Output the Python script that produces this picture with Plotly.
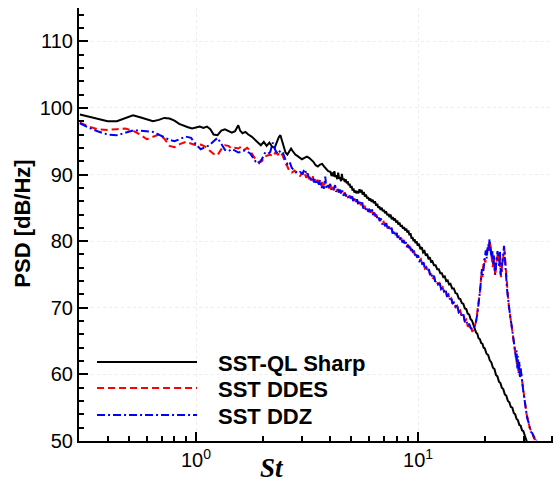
import plotly.graph_objects as go

# ---------------- data ----------------
st_ql = [0.30, 0.33, 0.36, 0.40, 0.44, 0.48, 0.52, 0.56, 0.60, 0.64, 0.68, 0.72, 0.76, 0.80, 0.84, 0.88,
         0.92, 0.96, 1.00, 1.04, 1.08, 1.12, 1.16, 1.20, 1.25, 1.30, 1.35, 1.40, 1.45, 1.50, 1.55, 1.58,
         1.62, 1.67, 1.72, 1.78, 1.84, 1.90, 1.96, 2.02, 2.08, 2.14, 2.20, 2.26, 2.31, 2.36, 2.40, 2.45,
         2.49, 2.53, 2.58, 2.63, 2.68, 2.73, 2.80, 2.86, 2.93, 3.00, 3.08, 3.16, 3.23, 3.30, 3.38, 3.46,
         3.54, 3.62, 3.70, 3.78, 3.86, 3.94, 4.03, 4.08, 4.12, 4.17, 4.20, 4.24, 4.28, 4.33, 4.37, 4.41,
         4.45, 4.50, 4.54, 4.58, 4.63, 4.68,
         4.72, 4.77, 4.82, 4.87, 4.92, 4.97, 5.02, 5.07, 5.12, 5.17, 5.22, 5.27, 5.33, 5.39, 5.45, 5.51,
         5.57, 5.63, 5.70, 5.76, 5.83, 5.90, 5.96, 6.03, 6.10, 6.18, 6.25, 6.33, 6.40, 6.48, 6.55, 6.62,
         6.70, 6.78, 6.86, 6.94, 7.02, 7.10, 7.18, 7.27, 7.35, 7.44, 7.52, 7.61, 7.70, 7.79, 7.88, 7.97,
         8.06, 8.15, 8.25, 8.35, 8.45, 8.55, 8.65, 8.75, 8.85, 8.95, 9.05, 9.15, 9.25, 9.35, 9.45, 9.55,
         9.65, 9.75, 9.85, 9.97, 10.1, 10.25, 10.4, 10.55, 10.7, 10.85, 11.0, 11.15, 11.3, 11.45, 11.6, 11.8,
         12.0, 12.2, 12.4, 12.6, 12.8, 13.0, 13.2, 13.4, 13.6, 13.8, 14.0, 14.25, 14.5, 14.75, 15.0, 15.25,
         15.5, 15.75, 16.0, 16.25, 16.5, 16.75, 17.0, 17.25, 17.5, 17.75, 18.0, 18.25, 18.5, 18.75, 19.0, 19.25,
         19.5, 19.75, 20.0, 20.35, 20.7, 21.05, 21.4, 21.75, 22.1, 22.45, 22.8, 23.15, 23.5, 23.85, 24.2, 24.6,
         25.0, 25.4, 25.8, 26.2, 26.6, 27.0, 27.4, 27.8, 28.2, 28.6, 29.0, 29.4, 29.8, 30.2, 30.5, 30.9, 31.2]
psd_ql = [99.0, 98.7, 98.4, 98.0, 98.0, 98.5, 98.9, 98.6, 98.3, 98.0, 98.2, 98.5, 98.4, 98.1, 97.6, 97.3,
          97.1, 96.9, 97.1, 97.2, 97.0, 97.2, 96.8, 96.0, 95.9, 96.6, 96.8, 96.6, 96.3, 96.5, 97.4, 96.6,
          96.2, 96.4, 96.0, 95.7, 95.3, 94.9, 94.4, 94.9, 94.3, 94.8, 94.2, 94.0, 94.9, 95.6, 95.9, 95.0,
          94.1, 93.3, 93.0, 93.4, 93.9, 93.5, 93.0, 92.8, 92.6, 92.3, 92.5, 92.7, 92.5, 92.2, 91.9, 91.4,
          91.2, 91.5, 91.6, 91.2, 90.8, 90.5, 90.4, 89.8, 90.3, 89.7, 90.5, 89.6, 89.9, 89.3, 90.3, 89.4,
          89.6, 89.0, 90.1, 89.2, 89.4, 88.9,
          89.3, 88.7, 89.0, 88.4, 88.6, 88.0, 88.3, 87.6, 87.9, 87.3, 87.6, 87.2, 87.5, 87.2, 87.8, 87.3,
          87.7, 87.0, 87.4, 86.7, 87.0, 86.4, 86.6, 86.1, 86.4, 85.9, 86.2, 85.7, 86.0, 85.3, 85.6, 85.0,
          85.2, 84.7, 85.0, 84.5, 84.7, 84.2, 84.5, 83.9, 84.1, 83.6, 84.0, 83.3, 83.6, 83.1, 83.4, 82.8,
          83.1, 82.5, 82.8, 82.2, 82.4, 81.9, 82.1, 81.6, 81.9, 81.3, 81.6, 80.9, 81.2, 80.4, 80.6, 80.0,
          80.3, 79.7, 80.0, 79.3, 79.6, 78.8, 79.1, 78.3, 78.5, 77.8, 78.1, 77.3, 77.6, 76.9, 77.0, 76.4,
          76.4, 75.8, 75.8, 75.2, 75.2, 74.6, 74.7, 74.0, 74.1, 73.5, 73.6, 72.9, 72.9, 72.2, 72.1, 71.4,
          71.3, 70.7, 70.6, 69.9, 69.8, 69.1, 69.0, 68.3, 68.1, 67.4, 67.1, 66.3, 66.1, 65.4, 65.3, 64.7,
          64.6, 64.0, 63.9, 63.1, 62.9, 62.1, 61.8, 61.0, 60.8, 59.9, 59.7, 58.9, 58.7, 58.0, 57.8, 57.0,
          56.8, 56.0, 55.8, 55.1, 55.0, 54.2, 54.0, 53.3, 53.1, 52.4, 52.3, 51.6, 51.5, 50.8, 50.6, 49.8, 49.5]

st_ddes = [0.30, 0.33, 0.36, 0.40, 0.44, 0.48, 0.52, 0.56, 0.60, 0.64, 0.68, 0.72, 0.76, 0.80, 0.85, 0.90,
           0.95, 1.00, 1.05, 1.10, 1.15, 1.20, 1.25, 1.30, 1.35, 1.40, 1.45, 1.50, 1.55, 1.60, 1.65, 1.70,
           1.75, 1.80, 1.86, 1.92, 1.98, 2.04, 2.10, 2.16, 2.22, 2.28, 2.34, 2.40, 2.46, 2.52, 2.58, 2.64,
           2.70, 2.78, 2.86, 2.94,
           3.02, 3.06, 3.10, 3.14, 3.18, 3.22, 3.26, 3.30, 3.35, 3.40, 3.44, 3.48, 3.53, 3.58, 3.62, 3.67,
           3.72, 3.77, 3.82, 3.87, 3.92, 3.97, 4.02, 4.07, 4.12, 4.17, 4.23, 4.28, 4.34, 4.40, 4.45, 4.50,
           4.56, 4.62, 4.68, 4.74, 4.80, 4.86, 4.92, 4.98, 5.05, 5.12, 5.18, 5.25, 5.31, 5.38, 5.45, 5.52,
           5.60, 5.67, 5.75, 5.82, 5.90, 5.97, 6.05, 6.12, 6.20, 6.27, 6.35, 6.42, 6.50, 6.57, 6.65, 6.72,
           6.80, 6.90, 7.00, 7.10, 7.20, 7.30, 7.40, 7.50, 7.60, 7.70, 7.80, 7.90, 8.00, 8.10, 8.20, 8.30,
           8.40, 8.50, 8.60, 8.70, 8.80, 8.90, 9.00, 9.10, 9.20, 9.30, 9.40, 9.50, 9.60, 9.70, 9.80, 9.90,
           10.0, 10.15, 10.3, 10.45, 10.6, 10.75, 10.9, 11.05, 11.2, 11.35, 11.5, 11.65, 11.8, 11.95, 12.1, 12.3,
           12.5, 12.7, 12.9, 13.1, 13.3, 13.5, 13.7, 13.9, 14.1, 14.3, 14.5, 14.75, 15.0, 15.25, 15.5, 15.75,
           16.0, 16.25, 16.5, 16.75, 17.0, 17.2, 17.4, 17.55, 17.7,
           18.0, 18.3, 18.6, 18.9, 19.1, 19.3, 19.5,
           19.7, 19.9, 20.1, 20.3, 20.5, 20.7, 20.9, 21.1, 21.3, 21.5, 21.7, 21.9, 22.1, 22.3, 22.5, 22.7,
           22.9, 23.1, 23.3, 23.5, 23.7, 23.9, 24.1, 24.3, 24.5, 24.7, 24.9, 25.1, 25.3, 25.5, 25.7, 25.9,
           26.2, 26.5, 26.8, 27.1, 27.4, 27.7, 27.9, 28.1, 28.3, 28.5, 28.7, 28.9, 29.1, 29.3, 29.6, 29.9,
           30.2, 30.5, 30.8, 31.1, 31.5, 31.9, 32.3, 32.8, 33.3, 33.8, 34.3]
psd_ddes = [97.8, 97.2, 96.8, 96.7, 96.8, 96.9, 96.6, 96.0, 95.3, 95.7, 96.0, 95.4, 94.3, 94.1, 94.6, 94.9,
            94.6, 94.4, 94.5, 94.2, 93.6, 93.1, 92.9, 93.8, 94.4, 94.3, 93.9, 94.0, 93.9, 94.2, 93.7, 94.0,
            93.6, 92.9, 92.2, 91.8, 92.0, 92.7, 92.8, 93.0, 92.7, 93.3, 93.0, 93.4, 92.8, 91.8, 91.2, 90.4,
            90.3, 90.6, 90.0, 89.8,
            90.3, 89.7, 90.0, 89.5, 89.9, 89.3, 89.6, 89.1, 89.8, 89.0, 89.4, 88.9, 89.2, 88.6, 88.9, 88.3,
            89.1, 88.4, 88.8, 88.1, 88.4, 87.9, 88.6, 87.8, 88.2, 87.6, 88.3, 87.5, 87.8, 87.3, 87.9, 87.2,
            87.5, 86.9, 87.3, 86.7, 87.0, 86.5, 86.9, 86.3, 86.6, 86.0, 86.5, 85.9, 86.2, 85.6, 86.0, 85.4,
            85.7, 85.0, 85.3, 84.7, 85.0, 84.5, 84.8, 84.2, 84.7, 84.0, 84.4, 83.7, 84.0, 83.3, 83.6, 83.0,
            83.3, 82.7, 82.9, 82.3, 82.6, 81.9, 82.2, 81.6, 81.9, 81.2, 81.5, 80.9, 81.2, 80.6, 80.9, 80.2,
            80.5, 79.9, 80.2, 79.6, 79.9, 79.2, 79.5, 78.9, 79.3, 78.5, 78.9, 78.2, 78.5, 77.9, 78.2, 77.5,
            77.8, 77.1, 77.3, 76.5, 76.6, 75.9, 76.1, 75.4, 75.6, 74.9, 75.1, 74.4, 74.6, 74.0, 74.2, 73.5,
            73.7, 72.9, 73.1, 72.4, 72.6, 71.8, 72.0, 71.2, 71.4, 70.7, 70.9, 70.1, 70.3, 69.4, 69.6, 68.7,
            68.9, 68.0, 68.2, 67.2, 67.4, 66.7, 67.0, 66.4, 66.6,
            67.2, 68.1, 69.8, 71.5, 73.0, 75.4, 74.6,
            76.5, 77.3, 76.8, 78.0, 78.9, 79.5, 78.4, 80.0, 78.6, 77.0, 76.1, 77.6, 75.4, 74.8, 76.5, 77.8,
            78.3, 76.7, 77.9, 75.2, 74.6, 76.2, 77.5, 78.0, 78.8, 77.0, 75.0, 73.3, 72.2, 71.1, 70.0, 69.2,
            68.0, 67.0, 65.9, 64.6, 63.4, 62.2, 61.5, 62.3, 60.5, 61.7, 59.8, 61.0, 60.2, 59.0, 58.4, 57.2,
            56.0, 55.0, 54.1, 53.6, 52.5, 51.9, 51.6, 51.0, 50.4, 50.2, 49.6]

st_ddz = [0.30, 0.33, 0.36, 0.40, 0.44, 0.48, 0.52, 0.56, 0.60, 0.64, 0.68, 0.72, 0.76, 0.80, 0.85, 0.90,
          0.95, 1.00, 1.05, 1.10, 1.15, 1.20, 1.25, 1.30, 1.35, 1.40, 1.45, 1.50, 1.55, 1.60, 1.65, 1.70,
          1.75, 1.80, 1.86, 1.92, 1.98, 2.04, 2.10, 2.16, 2.22, 2.28, 2.34, 2.40, 2.46, 2.52, 2.58, 2.64,
          2.70, 2.78, 2.86, 2.94,
          3.02, 3.06, 3.10, 3.14, 3.18, 3.22, 3.26, 3.30, 3.35, 3.40, 3.44, 3.48, 3.53, 3.58, 3.62, 3.67,
          3.72, 3.77, 3.82, 3.87, 3.92, 3.97, 4.02, 4.07, 4.12, 4.17, 4.23, 4.28, 4.34, 4.40, 4.45, 4.50,
          4.56, 4.62, 4.68, 4.74, 4.80, 4.86, 4.92, 4.98, 5.05, 5.12, 5.18, 5.25, 5.31, 5.38, 5.45, 5.52,
          5.60, 5.67, 5.75, 5.82, 5.90, 5.97, 6.05, 6.12, 6.20, 6.27, 6.35, 6.42, 6.50, 6.57, 6.65, 6.72,
          6.80, 6.90, 7.00, 7.10, 7.20, 7.30, 7.40, 7.50, 7.60, 7.70, 7.80, 7.90, 8.00, 8.10, 8.20, 8.30,
          8.40, 8.50, 8.60, 8.70, 8.80, 8.90, 9.00, 9.10, 9.20, 9.30, 9.40, 9.50, 9.60, 9.70, 9.80, 9.90,
          10.0, 10.15, 10.3, 10.45, 10.6, 10.75, 10.9, 11.05, 11.2, 11.35, 11.5, 11.65, 11.8, 11.95, 12.1, 12.3,
          12.5, 12.7, 12.9, 13.1, 13.3, 13.5, 13.7, 13.9, 14.1, 14.3, 14.5, 14.75, 15.0, 15.25, 15.5, 15.75,
          16.0, 16.25, 16.5, 16.75, 17.0, 17.3, 17.6,
          17.9, 18.2, 18.5, 18.8, 19.0, 19.2, 19.4,
          19.6, 19.8, 20.0, 20.2, 20.4, 20.6, 20.8, 21.0, 21.2, 21.4, 21.6, 21.8, 22.0, 22.2, 22.4, 22.6,
          22.8, 23.0, 23.2, 23.4, 23.6, 23.8, 24.0, 24.2, 24.4, 24.6, 24.8, 25.0, 25.2, 25.4, 25.6, 25.8,
          26.1, 26.4, 26.7, 27.0, 27.3, 27.6, 27.8, 28.0, 28.2, 28.4, 28.6, 28.8, 29.0, 29.2, 29.5, 29.8,
          30.1, 30.4, 30.7, 31.0, 31.4, 31.8, 32.2, 32.7, 33.2, 33.7, 34.2, 34.8]
psd_ddz = [97.7, 97.0, 96.5, 96.0, 95.9, 96.3, 96.6, 96.6, 96.5, 96.4, 96.0, 95.6, 95.2, 95.0, 95.3, 95.7,
           95.5, 94.5, 93.8, 94.1, 94.4, 95.0, 95.5, 94.6, 93.7, 93.5, 93.8, 93.6, 93.3, 93.4, 93.6, 93.4,
           93.2, 92.6, 91.9, 91.7, 92.3, 93.2, 93.0, 93.4, 94.8, 93.6, 93.1, 93.6, 93.3, 92.4, 91.6, 91.9,
           91.0, 90.6, 90.2, 90.4,
           90.1, 90.6, 90.8, 89.9, 90.2, 89.5, 89.8, 89.2, 89.5, 88.8, 89.4, 88.6, 88.9, 88.5, 89.2, 88.0,
           88.3, 87.9, 89.7, 88.0, 88.4, 88.1, 88.6, 87.7, 88.1, 87.8, 88.4, 87.4, 87.9, 87.5, 87.7, 87.1,
           87.6, 86.8, 87.2, 86.9, 87.1, 86.4, 86.7, 86.5, 86.7, 85.9, 86.3, 85.8, 86.3, 85.5, 85.9, 85.5,
           85.8, 84.9, 85.2, 84.8, 85.1, 84.4, 84.7, 84.4, 84.8, 83.9, 84.3, 83.9, 84.1, 83.2, 83.5, 83.1,
           83.4, 82.5, 82.8, 82.4, 82.7, 81.8, 82.1, 81.7, 82.0, 81.1, 81.4, 81.0, 81.3, 80.5, 80.8, 80.3,
           80.6, 79.8, 80.1, 79.7, 80.0, 79.1, 79.4, 79.0, 79.4, 78.4, 78.8, 78.3, 78.6, 77.8, 78.1, 77.6,
           77.9, 77.0, 77.2, 76.6, 76.8, 75.8, 76.0, 75.5, 75.8, 74.8, 75.0, 74.5, 74.8, 73.9, 74.1, 73.6,
           73.9, 72.8, 73.0, 72.5, 72.8, 71.7, 71.9, 71.3, 71.6, 70.6, 70.8, 70.2, 70.5, 69.3, 69.5, 68.8,
           69.1, 67.9, 68.1, 67.3, 67.6, 66.9, 66.8,
           67.0, 67.8, 69.0, 70.6, 72.4, 74.0, 75.8,
           74.9, 77.1, 77.6, 78.6, 77.4, 79.2, 78.6, 80.3, 79.0, 77.6, 78.5, 76.4, 77.9, 75.0, 76.0, 77.3,
           78.5, 77.9, 76.3, 78.4, 74.9, 75.6, 77.0, 78.2, 79.3, 77.6, 76.4, 74.2, 72.6, 71.4, 70.5, 69.6,
           68.3, 67.4, 66.3, 65.0, 63.8, 62.5, 63.6, 60.8, 62.7, 60.2, 61.9, 59.6, 60.9, 59.3, 58.7, 57.5,
           56.4, 55.3, 54.4, 53.5, 52.9, 52.1, 51.4, 51.2, 50.6, 50.3, 49.9, 49.5]

assert len(st_ql) == len(psd_ql)
assert len(st_ddes) == len(psd_ddes)
assert len(st_ddz) == len(psd_ddz)

names = ["SST-QL Sharp", "SST DDES", "SST DDZ"]
colors = ["black", "#ff0000", "#0000ff"]
dashes = ["solid", "7px,4px", "8px,3px,2px,3px"]

xticks = [1, 10]
xticklabels = ["10<sup>0</sup>", "10<sup>1</sup>"]
xminor = [0.4, 0.5, 0.6, 0.7, 0.8, 0.9, 2, 3, 4, 5, 6, 7, 8, 9, 20, 30, 40]
yticks = [50, 60, 70, 80, 90, 100, 110]

# ---------------- figure ----------------
fig = go.Figure()
series = [(st_ql, psd_ql), (st_ddes, psd_ddes), (st_ddz, psd_ddz)]
for (xs, ys), nm, c, d in zip(series, names, colors, dashes):
    fig.add_trace(go.Scatter(x=xs, y=ys, mode="lines", name=nm,
                             line=dict(color=c, width=2, dash=d), showlegend=False))

# manual legend (long line samples, as in the reference)
leg_y = [0.1824, 0.1224, 0.060]
for nm, c, d, yy in zip(names, colors, dashes, leg_y):
    fig.add_shape(type="line", xref="paper", yref="paper", x0=0.038, x1=0.249, y0=yy, y1=yy,
                  line=dict(color=c, width=2, dash=d))
    fig.add_annotation(text="<b>%s</b>" % nm, xref="paper", yref="paper", x=0.289, y=yy - 0.004,
                       xanchor="left", yanchor="middle", showarrow=False,
                       font=dict(family="Liberation Sans, Arial", size=22, color="black"))

# axis titles
fig.add_annotation(text="<b>PSD [dB/Hz]</b>", xref="paper", yref="paper", x=-0.118, y=0.502,
                   textangle=-90, showarrow=False, xanchor="center", yanchor="middle",
                   font=dict(family="Liberation Sans, Arial", size=22, color="black"))
fig.add_annotation(text="<b><i>St</i></b>", xref="paper", yref="paper", x=0.407, y=-0.062,
                   showarrow=False, xanchor="center", yanchor="middle",
                   font=dict(family="Liberation Serif, Times New Roman", size=27, color="black"))

fig.update_xaxes(type="log", range=[-0.527, 1.608], showline=True, linecolor="black", linewidth=2,
                 ticks="inside", ticklen=9, tickwidth=1.5, tickcolor="black",
                 tickmode="array", tickvals=xticks, ticktext=xticklabels,
                 tickfont=dict(family="Liberation Sans, Arial", size=20, color="black"),
                 showgrid=True, gridcolor="#ececec", griddash="dot", gridwidth=1, zeroline=False,
                 minor=dict(tickmode="array", tickvals=xminor, ticks="inside", ticklen=5,
                            tickwidth=1.5, tickcolor="black", showgrid=False))
fig.update_yaxes(range=[50, 115], showline=True, linecolor="black", linewidth=2,
                 ticks="inside", ticklen=9, tickwidth=1.5, tickcolor="black",
                 tickmode="array", tickvals=yticks,
                 tickfont=dict(family="Liberation Sans, Arial", size=20, color="black"),
                 showgrid=True, gridcolor="#ececec", griddash="dot", gridwidth=1, zeroline=False,
                 minor=dict(dtick=2, ticks="inside", ticklen=5, tickwidth=1.5,
                            tickcolor="black", showgrid=False))

fig.update_layout(width=553, height=484, margin=dict(l=79, r=0, t=8, b=43, pad=0),
                  plot_bgcolor="white", paper_bgcolor="white", showlegend=False)

fig.write_html("out.html")
